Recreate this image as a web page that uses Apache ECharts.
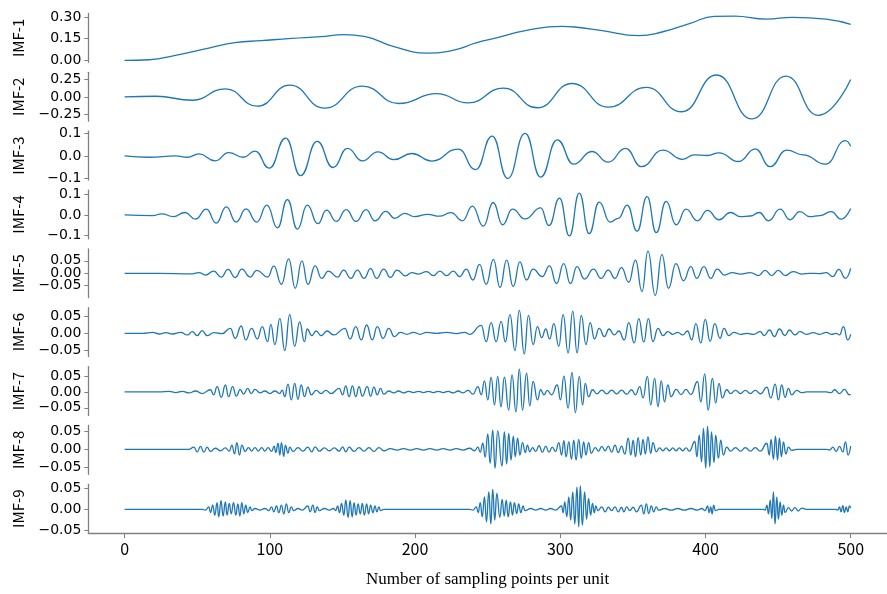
<!DOCTYPE html>
<html>
<head>
<meta charset="UTF-8">
<title>IMF</title>
<script src="https://cdn.jsdelivr.net/npm/echarts@6/dist/echarts.min.js"></script>
<style>
  html, body { margin: 0; padding: 0; background: #fff; }
  #chart { width: 887px; height: 594px; }
</style>
</head>
<body>
<div id="chart"></div>
<script>
// panel names
const imfNames = ['IMF-1', 'IMF-2', 'IMF-3', 'IMF-4', 'IMF-5', 'IMF-6', 'IMF-7', 'IMF-8', 'IMF-9'];

// x ticks of the bottom axis
const xTicks = [0, 100, 200, 300, 400, 500];

// y ticks of each panel
const yTicks = [
  [0, 0.15, 0.3], [-0.25, 0, 0.25], [-0.1, 0, 0.1], [-0.1, 0, 0.1],
  [-0.05, 0, 0.05], [-0.05, 0, 0.05], [-0.05, 0, 0.05], [-0.05, 0, 0.05], [-0.05, 0, 0.05]
];
const yDecimals = [2, 2, 1, 1, 2, 2, 2, 2, 2];
const yLimits = [
  [-0.016, 0.327], [-0.347, 0.353], [-0.108, 0.111], [-0.115, 0.120], [-0.098, 0.098],
  [-0.070, 0.077], [-0.074, 0.080], [-0.070, 0.067], [-0.057, 0.060]
];

// values: [sample, value]
const imf1 = [[0,-0.002],[17,0.002],[35,0.033],[58,0.084],[76,0.122],[94,0.136],[115,0.152],[135,0.164],[151,0.178],[165,0.166],[185,0.096],[208,0.049],[226,0.068],[242,0.12],[256,0.155],[276,0.206],[301,0.237],[310,0.232],[329,0.206],[354,0.171],[370,0.197],[390,0.26],[406,0.307],[420,0.309],[442,0.288],[460,0.30],[483,0.288],[500,0.25]];

const imf2 = [[0,0],[21.6,0.01],[46.6,-0.047],[69.4,0.117],[91.4,-0.132],[113.7,0.169],[137.6,-0.16],[163.7,0.155],[188.7,-0.094],[214.9,0.047],[236.5,-0.085],[261,0.127],[284.2,-0.155],[308.1,0.193],[333.1,-0.146],[359.3,0.137],[383.6,-0.212],[407.7,0.315],[432,-0.315],[455.4,0.30],[477.5,-0.264],[500,0.25]];

const imf3 = [[0,0],[17.1,-0.006],[35.3,0],[43.2,-0.006],[51.2,0.009],[62.5,-0.022],[71.6,0.015],[81.9,-0.006],[89.8,0.022],[99.6,-0.055],[110.9,0.08],[121.2,-0.088],[132.6,0.065],[143.5,-0.052],[153.5,0.034],[163.7,-0.022],[174.4,0.018],[185.3,-0.017],[197.8,0.011],[211.5,-0.023],[229.7,0.031],[241.7,-0.061],[253.1,0.089],[263.8,-0.101],[275.8,0.101],[286.5,-0.095],[297.9,0.072],[309.2,-0.037],[321.7,0.02],[333.1,-0.028],[344.9,0.034],[355.9,-0.048],[370.6,0.026],[384.3,-0.015],[392.2,0.005],[401.3,0.002],[409.3,0.014],[422.9,-0.025],[434.3,0.032],[444.5,-0.048],[455.9,0.026],[467.3,0.005],[482.7,-0.037],[496.4,0.069],[500,0.043]];

const imf4 = [[0,0],[19.3,-0.003],[25.6,0.005],[33.6,-0.008],[41.6,0.012],[48.8,-0.02],[56.3,0.028],[63.1,-0.039],[70,0.039],[76.8,-0.034],[83.6,0.029],[91,-0.034],[98,0.047],[105.3,-0.062],[112.1,0.074],[119,-0.068],[125.8,0.047],[133.1,-0.042],[139,0.023],[145.8,-0.031],[152.6,0.026],[159.4,-0.031],[166.3,0.026],[172.4,-0.028],[179.9,0.017],[186.1,-0.016],[192.9,0.008],[199.7,-0.008],[208.8,0.003],[216.8,-0.006],[224.7,0.011],[232.7,-0.028],[239.5,0.043],[247,-0.054],[253.8,0.06],[260.3,-0.047],[267.1,0.028],[275.8,-0.019],[286.5,0.034],[292.2,-0.051],[299.5,0.081],[306.3,-0.101],[313.1,0.105],[319.9,-0.09],[326.8,0.062],[334.3,-0.034],[340,-0.016],[346.1,0.047],[352.9,-0.078],[359.8,0.088],[366.1,-0.085],[372.9,0.065],[379.8,-0.047],[386.6,0.028],[394.5,-0.028],[401.3,0.022],[409.3,-0.023],[417.2,0.012],[424,-0.008],[430.9,-0.005],[437,0.012],[443.4,-0.028],[451.4,0.028],[458.2,-0.023],[465,0.016],[471.8,-0.008],[478.7,-0.003],[486.6,0.016],[493.4,-0.02],[500,0.031]];

const imf5 = [[0,0],[23.9,0],[46.6,-0.002],[51.2,0.003],[55.7,-0.007],[61.4,0.009],[66.6,-0.015],[71.2,0.016],[76.2,-0.017],[80.7,0.017],[86.4,-0.015],[91,0.012],[98.5,-0.015],[102.8,0.029],[108,-0.044],[113,0.058],[117.5,-0.06],[122.1,0.05],[126.2,-0.044],[131.2,0.03],[135.7,-0.02],[140.3,0.009],[146.7,-0.015],[150.8,0.013],[155.8,-0.02],[160.3,0.013],[164.9,-0.02],[169.4,0.019],[173.5,-0.02],[178.5,0.017],[183,-0.017],[187.6,0.013],[193.3,-0.01],[197.8,0.003],[202.4,-0.003],[208,0.007],[212.6,-0.009],[217.1,0.009],[221.7,-0.009],[226.3,0.009],[230.8,-0.013],[235.3,0.017],[239.9,-0.027],[244.4,0.036],[249,-0.044],[254,0.056],[258.5,-0.057],[263.1,0.053],[267.6,-0.053],[272.2,0.046],[276.7,-0.027],[281.3,0.017],[287.6,-0.013],[292.6,0.03],[297.4,-0.041],[302.4,0.039],[307,-0.041],[311.5,0.027],[316.7,-0.023],[322.9,0.017],[328.1,-0.02],[333.1,0.013],[337.7,-0.02],[342.2,0.023],[347.2,-0.036],[351.8,0.053],[356.3,-0.073],[360.4,0.089],[365.4,-0.089],[370,0.075],[374.5,-0.06],[379.7,0.039],[384.9,-0.03],[389.9,0.027],[394,-0.02],[398.9,0.027],[403.6,-0.02],[408.1,0.017],[413.1,-0.007],[418.4,0.003],[424.1,-0.003],[430.9,0.003],[436.6,-0.009],[441.1,0.012],[445.6,-0.009],[450.2,0.012],[454.8,-0.009],[460.4,0.007],[466.1,-0.003],[471.8,0],[478.6,-0.001],[483.2,0.003],[487.7,-0.013],[491.8,0.016],[496.4,-0.02],[500,0.02]];

const imf6 = [[0,0],[12.5,0],[19.3,0.003],[23.9,-0.002],[28.4,0.002],[33,-0.002],[38.7,0.003],[43.2,-0.005],[46.6,0.005],[50,-0.007],[53.4,0.008],[56.8,-0.007],[61.4,0.002],[67.1,-0.001],[72.8,0.015],[76.2,-0.015],[80.3,0.022],[83.4,-0.02],[87.5,0.015],[91.4,-0.017],[94.8,0.02],[98.5,-0.025],[100.7,0.027],[103.5,-0.034],[106.9,0.044],[110.3,-0.052],[113.7,0.056],[117.1,-0.039],[120.5,0.034],[123.9,-0.025],[125.7,0.013],[128.9,-0.007],[131.9,0.007],[135.3,-0.007],[139.4,0.007],[144,-0.005],[151.7,0.015],[155.3,-0.017],[159.2,0.02],[163,-0.02],[166.7,0.025],[170.5,-0.02],[174,0.02],[178,-0.015],[181.9,0.015],[185.8,-0.01],[189.9,0.003],[194.4,-0.003],[199,0.003],[203.5,-0.003],[208,0.003],[214.9,0],[221.7,0.003],[228.5,-0.001],[234.2,0.003],[237.6,-0.003],[245.6,0.024],[249,-0.025],[252.4,0.032],[255.8,-0.025],[259.3,0.036],[262.2,-0.026],[265.4,0.056],[268.8,-0.052],[271.8,0.069],[275.2,-0.062],[278.1,0.054],[281.3,-0.034],[284.3,0.02],[287.2,-0.013],[290,0.013],[292.7,-0.017],[295.6,0.029],[299,-0.039],[302,0.056],[305.4,-0.059],[308.6,0.066],[311.6,-0.059],[314.5,0.054],[317.7,-0.034],[320.6,0.032],[323.6,-0.017],[326.8,0.015],[330.4,-0.01],[333.6,0.013],[337.2,-0.005],[340.4,0.007],[344.1,-0.02],[347.2,0.032],[350.9,-0.029],[354.1,0.044],[357.5,-0.026],[360.7,0.044],[363.8,-0.025],[367.3,0.015],[370.7,-0.007],[374.1,0.005],[377.5,-0.003],[380.9,0.003],[384.3,-0.005],[387.7,0.007],[390.5,-0.02],[393.4,0.029],[396.8,-0.029],[399.8,0.042],[403.2,-0.024],[406.4,0.029],[410,-0.015],[412.7,0.015],[416.1,-0.007],[419.5,0.003],[424.1,-0.003],[428.6,0],[433.2,-0.003],[437.7,0.005],[440.5,-0.007],[444.1,0.01],[447.5,-0.01],[450.9,0.013],[454.8,-0.007],[457.8,0.01],[461.6,-0.005],[465,0.005],[469.6,-0.003],[474.1,0.002],[478.7,-0.003],[483.2,0.003],[486.6,-0.003],[490,0],[492.3,-0.005],[495,0.02],[498,-0.02],[500,-0.003]];

const imf7 = [[0,0],[23.9,0],[30.7,0.002],[35.2,-0.002],[39.8,0.002],[44.3,-0.003],[48.9,0.003],[53.4,-0.005],[59.1,0.007],[61.4,-0.009],[63.7,0.017],[66.6,-0.017],[69.4,0.022],[71.6,-0.015],[74.4,0.017],[76.9,-0.013],[79.6,0.008],[81.9,-0.007],[84.8,0.011],[87.1,-0.005],[89.8,0.008],[93.2,-0.003],[96.6,0.003],[100.1,-0.005],[103.5,0.003],[106.8,-0.005],[108.6,0.006],[110.3,-0.015],[112.5,0.025],[114.8,-0.025],[117.1,0.027],[119.4,-0.023],[121.6,0.022],[123.9,-0.015],[126.2,0.015],[128.5,-0.009],[131.9,0.005],[135.3,-0.005],[138.7,0.005],[142.1,-0.005],[147.8,0.011],[150.1,-0.009],[152.3,0.019],[154.6,-0.015],[156.9,0.019],[159.2,-0.015],[161.4,0.017],[163.7,-0.013],[167.1,0.017],[169.4,-0.013],[171.7,0.015],[174,-0.009],[176.2,0.011],[178.5,-0.007],[181.9,0.003],[185.3,-0.003],[188.7,0.003],[192.1,-0.003],[195.5,0.002],[198.9,-0.002],[202.4,0.002],[205.8,-0.002],[209.2,0.002],[212.6,-0.002],[216,0.002],[219.4,-0.002],[222.8,0.002],[226.2,-0.003],[229.7,0.003],[233.1,-0.003],[236.5,0.005],[239.9,-0.007],[243.3,0.017],[245.6,-0.009],[247.8,0.035],[250.1,-0.025],[252.4,0.047],[254.7,-0.041],[256.9,0.049],[259.2,-0.047],[261.5,0.047],[264.5,-0.057],[266.8,0.054],[269.5,-0.063],[271.8,0.072],[274,-0.057],[276.8,0.059],[279,-0.044],[281.3,0.033],[284.3,-0.025],[286.5,0.007],[288.8,-0.009],[291.1,0.005],[294,-0.009],[297.9,0.022],[300.2,-0.025],[302.5,0.05],[305.4,-0.051],[308.1,0.062],[310.4,-0.065],[313.1,0.049],[315.4,-0.041],[317.2,0.027],[319.5,-0.015],[322.2,0.007],[325.2,-0.006],[328.6,0.006],[332,-0.006],[335.4,0.006],[338.8,-0.006],[342.2,0.006],[345.7,-0.007],[349.1,0.007],[351.8,-0.009],[354.8,0.017],[357,-0.019],[360,0.049],[362.3,-0.041],[365,0.043],[367.3,-0.047],[369.5,0.035],[371.8,-0.031],[374.1,0.022],[376.3,-0.015],[379.8,0.008],[383.2,-0.008],[386.6,0.008],[390,-0.008],[394.5,0.033],[396.8,-0.031],[399.5,0.057],[401.8,-0.057],[404.8,0.043],[407,-0.035],[409.3,0.027],[411.6,-0.019],[414.6,0.007],[417.3,-0.005],[420.7,0.005],[424.1,-0.005],[427.5,0.005],[430.9,-0.005],[434.3,0.005],[438,-0.006],[442.3,0.015],[445,-0.019],[448,0.025],[450.2,-0.025],[452.5,0.022],[454.8,-0.017],[457.1,0.011],[459.3,-0.009],[462.8,0.005],[466.2,-0.002],[469.6,0],[483.2,0],[486.6,-0.002],[488.9,0.007],[492.3,-0.005],[495.7,0.008],[499.1,-0.009],[500,-0.007]];

const imf8 = [[0,0],[44.3,0],[47.7,0.006],[50,-0.007],[52.3,0.008],[54.6,-0.008],[56.8,0.006],[59.1,-0.006],[62.5,0.003],[66,-0.004],[69.4,0.004],[72.1,-0.005],[73.9,0.012],[75.7,-0.013],[77.3,0.019],[79.1,-0.016],[80.7,0.012],[83,-0.006],[85.3,0.005],[87.5,-0.005],[89.8,0.005],[92.1,-0.005],[94.4,0.005],[96.6,-0.005],[98.9,0.005],[101.2,-0.006],[103,0.009],[104.1,-0.009],[105.7,0.017],[106.9,-0.016],[108,0.019],[109.6,-0.02],[110.7,0.012],[112.5,-0.011],[113.7,0.006],[116,-0.006],[119.4,0.005],[122.8,-0.005],[126.2,0.006],[128.9,-0.007],[131.2,0.007],[134.1,-0.005],[137.6,0.004],[141,-0.004],[144.4,0.004],[147.8,-0.005],[150.1,0.007],[152.3,-0.007],[154.6,0.006],[158,-0.006],[161.4,0.005],[164.9,-0.005],[168.3,0.005],[171.7,-0.006],[175.1,0.005],[178.5,-0.004],[183,0.002],[187.6,-0.002],[192.1,0.002],[196.7,-0.002],[201.2,0.002],[205.8,-0.002],[210.3,0.002],[214.9,-0.002],[219.4,0.002],[224,-0.002],[228.5,0.002],[233.1,-0.002],[237.6,0.003],[241,-0.004],[243.3,0.006],[244.9,-0.008],[246.7,0.017],[248.3,-0.022],[250.1,0.043],[251.7,-0.039],[253.5,0.054],[255.1,-0.053],[256.9,0.052],[259.9,-0.047],[261.5,0.049],[263.1,-0.041],[264.5,0.045],[266.1,-0.03],[267.7,0.037],[269,-0.021],[270.6,0.031],[272.2,-0.016],[274,0.019],[275.9,-0.009],[277.4,0.012],[279,-0.007],[280.9,0.005],[283.1,-0.006],[285.4,0.01],[287.7,-0.008],[290,0.009],[292.2,-0.008],[294.5,0.006],[296.8,-0.006],[299,0.019],[300.9,-0.016],[302.5,0.024],[304,-0.021],[305.9,0.021],[307.7,-0.028],[309.3,0.026],[310.9,-0.03],[312.7,0.028],[314.5,-0.025],[316.1,0.021],[317.7,-0.016],[319.5,0.019],[321.3,-0.011],[324.1,0.005],[326.3,-0.005],[328.6,0.008],[330.9,-0.004],[333.1,0.009],[335.4,-0.008],[337.7,0.012],[339.9,-0.009],[342.2,0.009],[344.5,-0.013],[346.8,0.031],[348.6,-0.016],[350.2,0.026],[351.8,-0.021],[353.6,0.033],[355.4,-0.016],[357,0.028],[358.6,-0.013],[360.4,0.035],[362.3,-0.011],[363.8,0.019],[366.1,-0.007],[368.4,0.004],[370.7,-0.004],[372.9,0.004],[375.2,-0.004],[377.5,0.004],[379.8,-0.004],[382,0.004],[384.3,-0.004],[386.6,0.004],[388.9,-0.005],[392.7,0.022],[394.1,-0.021],[395.7,0.04],[397.3,-0.035],[398.6,0.059],[400.2,-0.053],[401.4,0.064],[403,-0.049],[404.1,0.049],[405.9,-0.037],[407,0.04],[408.9,-0.025],[410.5,0.026],[412.3,-0.016],[414.6,0.006],[417.3,-0.005],[420.7,0.005],[424.1,-0.005],[427.5,0.005],[430.9,-0.005],[434.3,0.005],[437.7,-0.005],[442.3,0.017],[443.9,-0.016],[445.2,0.028],[446.8,-0.028],[448.2,0.037],[449.6,-0.03],[450.9,0.031],[452.3,-0.021],[453.7,0.021],[455.3,-0.013],[457.1,0.006],[459.3,-0.003],[462.8,0],[483.2,0],[485.5,-0.002],[487.8,0.006],[490,-0.006],[492.3,0.008],[494.6,-0.007],[496.4,0.021],[498.2,-0.016],[500,0.009]];

const imf9 = [[0,0],[53.4,0],[55.7,-0.002],[58,0.006],[59.1,-0.008],[60.7,0.01],[62.1,-0.014],[63.7,0.016],[64.8,-0.018],[66.4,0.021],[67.8,-0.016],[69.4,0.018],[70.5,-0.014],[72.1,0.014],[73.4,-0.011],[75,0.016],[76.6,-0.014],[78,0.013],[79.4,-0.016],[80.7,0.016],[82.1,-0.011],[83.4,0.01],[84.8,-0.008],[86.4,0.006],[87.5,-0.003],[89.8,0.002],[93.2,-0.002],[96.6,0.002],[99.4,-0.003],[101.2,0.006],[102.8,-0.006],[104.6,0.008],[106.2,-0.008],[108,0.01],[109.6,-0.011],[111.4,0.013],[113,-0.008],[114.8,0.006],[116.4,-0.003],[119.4,0.002],[122.3,-0.002],[126.2,0.008],[127.8,-0.006],[129.6,0.01],[131.2,-0.008],[132.6,0.006],[134.1,-0.003],[137.6,0.002],[141,-0.002],[143.9,0.002],[145.3,-0.003],[146.7,0.008],[148,-0.008],[149.4,0.014],[151,-0.014],[152.3,0.022],[153.9,-0.019],[155.3,0.021],[156.7,-0.018],[158,0.016],[159.4,-0.014],[160.8,0.013],[162.3,-0.011],[163.7,0.014],[165.1,-0.014],[166.7,0.013],[168,-0.011],[169.4,0.01],[171,-0.008],[172.4,0.008],[173.7,-0.006],[175.1,0.006],[176.2,-0.003],[178.5,0],[237.6,0],[239.9,-0.002],[242.2,0.006],[243.5,-0.008],[244.9,0.016],[246.3,-0.018],[247.8,0.03],[249.2,-0.03],[250.8,0.042],[252.2,-0.035],[253.5,0.048],[254.9,-0.026],[256.3,0.038],[258.4,-0.019],[260,0.024],[261.4,-0.016],[262.8,0.022],[264.1,-0.018],[265.7,0.018],[267.1,-0.014],[268.4,0.016],[270,-0.01],[271.4,0.013],[272.8,-0.008],[274.4,0.008],[275.7,-0.003],[279.7,0.002],[283.1,-0.002],[286.5,0.002],[290,-0.002],[293.4,0.002],[296.8,-0.002],[300.9,0.008],[302,-0.008],[303.1,0.018],[304.5,-0.018],[305.9,0.03],[307.2,-0.026],[308.6,0.042],[310,-0.035],[311.5,0.053],[312.7,-0.042],[313.8,0.056],[315.2,-0.038],[316.8,0.042],[318.1,-0.024],[319.5,0.026],[320.9,-0.014],[322.2,0.014],[323.4,-0.008],[324.5,0.008],[325.9,-0.003],[328.6,0.006],[330.9,-0.006],[333.1,0.005],[335.4,-0.003],[337.7,0.006],[339.9,-0.006],[342.2,0.005],[343.8,-0.006],[345.7,0.006],[347.9,-0.003],[350.2,0.005],[352.5,-0.006],[355.9,0.01],[357.5,-0.011],[359.3,0.013],[360.9,-0.01],[362.7,0.008],[364.3,-0.006],[366.1,0.006],[367.7,-0.002],[371.8,0.002],[376.3,-0.002],[380.9,0.002],[385.4,-0.002],[390,0.002],[394.5,-0.002],[397.5,0.002],[399.8,-0.003],[401.4,0.008],[402.6,-0.008],[403.6,0.006],[404.6,-0.011],[405.6,0.01],[406.8,-0.003],[409.3,0],[440,0],[441.2,-0.002],[442.3,0.01],[443.4,-0.011],[444.6,0.022],[445.7,-0.022],[446.8,0.042],[447.9,-0.035],[449.1,0.03],[450.2,-0.024],[451.4,0.018],[452.5,-0.014],[453.7,0.01],[454.8,-0.008],[457.1,0.004],[459.3,-0.004],[461.6,0.004],[463.9,-0.004],[466.2,0.003],[469.6,0],[490,0],[491.1,-0.002],[492.3,0.006],[493.4,-0.006],[494.6,0.009],[495.7,-0.008],[496.9,0.006],[498,-0.006],[499.1,0.008],[500,0.003]];

const imfData = [imf1, imf2, imf3, imf4, imf5, imf6, imf7, imf8, imf9];

const chart = echarts.init(document.getElementById('chart'), null, { renderer: 'canvas' });

const grids = [], xAxes = [], yAxes = [], series = [];
const spine = '#808080';
const last = imfNames.length - 1;
const panelTop = 13.5, panelStep = 58.85, panelHeight = 48.8;
const labelFont = 14;

const fmt = (v, dec) => (v < 0 ? '\u2212' : '') + Math.abs(v).toFixed(dec);

imfNames.forEach((name, i) => {
  grids.push({ left: 88.3, top: panelTop + i * panelStep, width: 806.3, height: panelHeight });

  const isLast = i === last;
  xAxes.push({
    type: 'value', gridIndex: i, min: -25, max: 525,
    show: isLast,
    axisLine: { show: isLast, onZero: false, lineStyle: { color: spine, width: 1.3 } },
    axisTick: { show: isLast, customValues: xTicks, length: 5, inside: false, lineStyle: { color: spine } },
    axisLabel: { show: isLast, customValues: xTicks, margin: 8, color: '#000', fontSize: 16, fontFamily: 'Noto Sans CJK SC' },
    splitLine: { show: false },
    name: isLast ? 'Number of sampling points per unit' : '',
    nameLocation: 'middle', nameGap: 38,
    nameTextStyle: { fontFamily: 'Liberation Serif', fontSize: 17, color: '#000' }
  });

  const dec = yDecimals[i];
  const ticks = yTicks[i];
  const [lo, hi] = yLimits[i];
  // pixel gap between neighbouring ticks; when the labels would collide
  // (as they do on IMF-5) stack them as one block centred on the middle tick
  const gapPx = (ticks[1] - ticks[0]) / (hi - lo) * panelHeight;
  const crowded = gapPx < labelFont;
  const labelCfg = crowded ? {
    customValues: [ticks[1]],
    lineHeight: gapPx,
    formatter: () => ticks.slice().reverse().map(t => fmt(t, dec)).join('\n')
  } : {
    customValues: ticks,
    formatter: v => fmt(v, dec)
  };

  yAxes.push({
    type: 'value', gridIndex: i, min: lo, max: hi,
    axisLine: { show: true, onZero: false, lineStyle: { color: spine, width: 1.3 } },
    axisTick: { show: true, customValues: ticks, length: 4, lineStyle: { color: spine } },
    axisLabel: Object.assign({
      margin: 7, color: '#000', fontSize: labelFont, fontFamily: 'DejaVu Sans', align: 'right',
      hideOverlap: false
    }, labelCfg),
    splitLine: { show: false },
    name: name, nameLocation: 'middle', nameRotate: 90, nameGap: 63,
    nameTextStyle: { fontFamily: 'Noto Sans CJK SC', fontSize: 15, color: '#000' }
  });

  series.push({
    type: 'line', xAxisIndex: i, yAxisIndex: i,
    data: imfData[i],
    showSymbol: false, symbol: 'none',
    smooth: 0.5,
    smoothMonotone: i === 0 ? null : 'x',
    lineStyle: { color: '#1f77b4', width: 1.3 },
    itemStyle: { color: '#1f77b4' },
    silent: true
  });
});

chart.setOption({
  animation: false,
  grid: grids,
  xAxis: xAxes,
  yAxis: yAxes,
  series: series
});
</script>
</body>
</html>
